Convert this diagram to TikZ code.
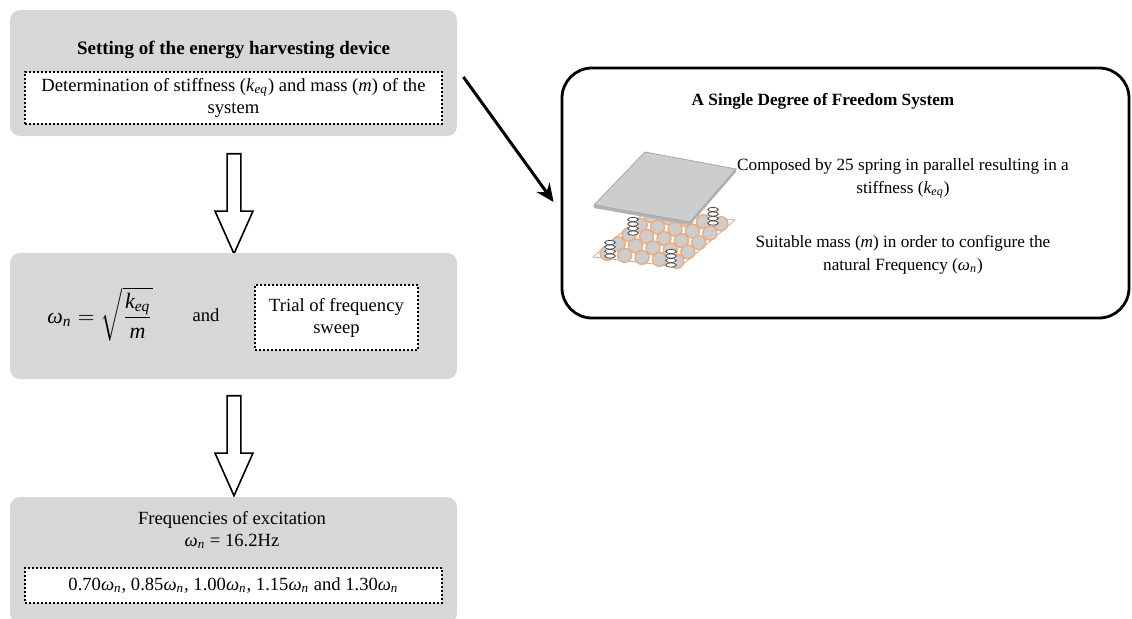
\documentclass[tikz,border=0pt]{standalone}
\usepackage{amsmath}
\usepackage{fontspec}
\setmainfont{Liberation Serif}
\usetikzlibrary{shapes.arrows,arrows.meta}

\definecolor{boxgray}{RGB}{215,215,215}
\definecolor{plategray}{RGB}{205,205,205}
\definecolor{ringorange}{RGB}{240,170,120}

% italic symbols set in the text face
\newcommand{\omegan}{\textit{ω}\textsubscript{\textit{n}}}
\newcommand{\keq}{\textit{k}\textsubscript{\textit{eq}}}

\tikzset{
  graybox/.style={rectangle, rounded corners=5pt, fill=boxgray,
    minimum width=223.5pt, minimum height=63pt, inner sep=0pt},
  dotbox/.style={rectangle, draw, line width=1pt, dash pattern=on 1pt off 1pt,
    fill=white, align=center, inner sep=0pt},
  hollow/.style={single arrow, draw, line width=0.8pt, fill=white,
    shape border rotate=270, minimum height=50pt, minimum width=19pt,
    single arrow head extend=6pt, single arrow tip angle=48, inner sep=3pt},
  small/.style={font=\fontsize{8.6}{11.5}\selectfont},
}

\begin{document}
\begin{tikzpicture}[x=0.5pt,y=-0.5pt,font=\fontsize{9.3}{11}\selectfont]
\useasboundingbox (0,0) rectangle (1132,618);

% left column
\node[graybox] (setting) at (233.5,73) {};
\node[font=\fontsize{9.5}{11}\selectfont\bfseries] (settitle) at (233.5,50)
  {Setting of the energy harvesting device};
\node[dotbox, minimum width=208.5pt, minimum height=26pt] (stiff) at (233.5,98)
  {Determination of stiffness (\keq) and mass (\textit{m}) of the\\ system};

\node[hollow] (arr1) at (234,196) {};

\node[graybox] (natural) at (233.5,316) {};
\node[font=\fontsize{11}{13}\selectfont] (omega) at (100,314)
  {$\textit{ω}_{\textit{n}}=\sqrt{\dfrac{\textit{k}_{\textit{eq}}}{\textit{m}}}$};
\node (and) at (206,315) {and};
\node[dotbox, minimum width=81.5pt, minimum height=32.5pt] (sweep) at (336.5,317.5)
  {Trial of frequency\\ sweep};

\node[hollow] (arr2) at (234,438) {};

\node[graybox] (excite) at (233.5,560) {};
\node[align=center] (freq) at (232,530) {Frequencies of excitation\\ \omegan{} = 16.2Hz};
\node[dotbox, minimum width=208.5pt, minimum height=17.5pt] (ratios) at (233.5,585.5)
  {0.70\omegan, 0.85\omegan, 1.00\omegan, 1.15\omegan{} and 1.30\omegan};

% right box
\node[draw, line width=1.4pt, rounded corners=15pt, minimum width=283.5pt,
  minimum height=125pt] (sdof) at (845.5,193) {};
\node[font=\fontsize{8.6}{11.5}\selectfont\bfseries] (sdoftitle) at (823,101)
  {A Single Degree of Freedom System};
\node[small, align=center] (springs) at (903,178.5)
  {Composed by 25 spring in parallel resulting in a\\ stiffness (\keq)};
\node[small, align=center] (mass) at (903,255)
  {Suitable mass (\textit{m}) in order to configure the\\ natural Frequency (\omegan)};

\draw[-{Stealth[length=9pt,width=8pt]}, line width=1.5pt]
  ([xshift=3pt,yshift=-2pt]setting.east) -- ([xshift=-3.5pt,yshift=-4.5pt]sdof.west);

% base plate with the 25 springs
\draw[gray!60, fill=white] (593,257) -- (680,267) -- (735,220) -- (648,210) -- cycle;
\foreach \j in {4,3,2,1,0}
  \foreach \i in {0,...,4}
    \draw[ringorange, fill=plategray, line width=0.7pt]
      ({593+(\i+0.5)*17.4+(\j+0.5)*11},{257+(\i+0.5)*2-(\j+0.5)*9.4}) circle [radius=3.5pt];
\foreach \sx/\sy in {713/216,633/226,610/249,671/258}{
  \fill[white] (\sx-5,\sy-7) rectangle (\sx+5,\sy+7);
  \foreach \k in {7,2.5,-2,-6.5}
    \draw[black!70, fill=white, line width=0.4pt] (\sx,\sy+\k) ellipse [x radius=2.6pt, y radius=1.1pt];
}
% top mass plate
\fill[gray!60] (594,205) -- (690,222) -- (736,169) -- (736,172) -- (690,225) -- (594,208) -- cycle;
\draw[gray!70, fill=plategray] (645,152) -- (736,169) -- (690,222) -- (594,205) -- cycle;
\end{tikzpicture}
\end{document}
